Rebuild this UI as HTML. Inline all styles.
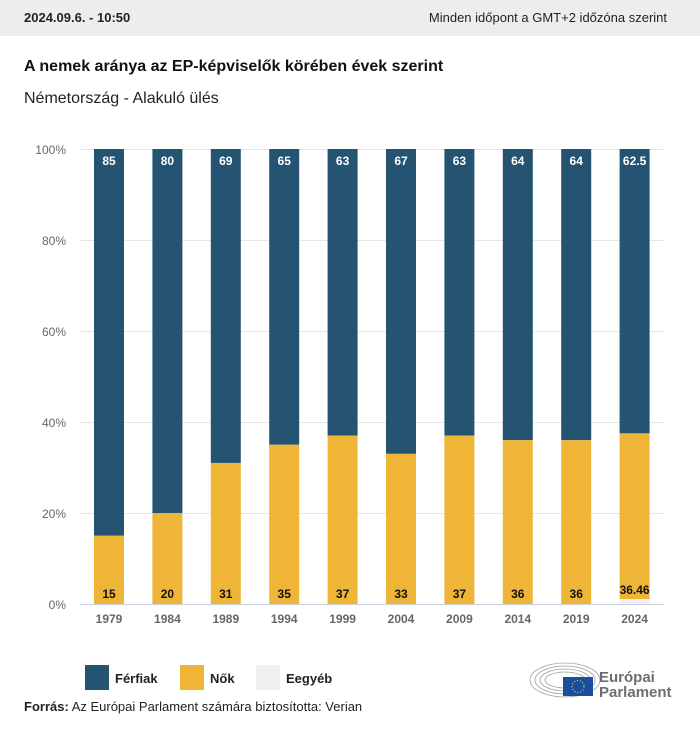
<!DOCTYPE html>
<html><head><meta charset="utf-8"><style>
body{margin:0;width:700px;height:731px;background:#fff;font-family:"Liberation Sans",sans-serif;overflow:hidden}
</style></head><body>
<svg width="700" height="731" xmlns="http://www.w3.org/2000/svg" font-family="Liberation Sans, sans-serif">
<rect x="0" y="0" width="700" height="36" fill="#eceeee"/>
<text x="24" y="22" font-size="13" font-weight="bold" fill="#222">2024.09.6. - 10:50</text>
<text x="667" y="22" font-size="13" fill="#222" text-anchor="end">Minden időpont a GMT+2 időzóna szerint</text>
<text x="24" y="71" font-size="16" font-weight="bold" fill="#111">A nemek aránya az EP-képviselők körében évek szerint</text>
<text x="24" y="103" font-size="16" fill="#222">Németország - Alakuló ülés</text>
<g stroke="#e6e6e6" stroke-width="1">
<line x1="80" y1="149.5" x2="664" y2="149.5"/><line x1="80" y1="240.5" x2="664" y2="240.5"/><line x1="80" y1="331.5" x2="664" y2="331.5"/><line x1="80" y1="422.5" x2="664" y2="422.5"/><line x1="80" y1="513.5" x2="664" y2="513.5"/>
</g>
<g font-size="12" fill="#666" text-anchor="end">
<text x="66" y="154">100%</text><text x="66" y="245">80%</text><text x="66" y="336">60%</text><text x="66" y="427">40%</text><text x="66" y="518">20%</text><text x="66" y="609">0%</text>
</g>
<g id="bars"></g>
<line x1="80" y1="604.5" x2="664" y2="604.5" stroke="#c8d0e0" stroke-width="1"/>
<g font-size="12" font-weight="bold" fill="#666" text-anchor="middle" id="years"></g>
<rect x="85" y="665" width="24" height="25" fill="#255473"/>
<text x="115" y="683" font-size="13" font-weight="bold" fill="#222">Férfiak</text>
<rect x="180" y="665" width="24" height="25" fill="#eeb536"/>
<text x="210" y="683" font-size="13" font-weight="bold" fill="#222">Nők</text>
<rect x="256" y="665" width="24" height="25" fill="#eeeff1"/>
<text x="286" y="683" font-size="13" font-weight="bold" fill="#222">Eegyéb</text>
<text x="24" y="711" font-size="13" fill="#222"><tspan font-weight="bold">Forrás:</tspan> Az Európai Parlament számára biztosította: Verian</text>
<g fill="none" stroke="#9aa0a6" stroke-width="0.8">
<ellipse cx="565" cy="680" rx="35" ry="17"/><ellipse cx="565" cy="680" rx="30" ry="14"/><ellipse cx="565" cy="680" rx="25" ry="11"/><ellipse cx="565" cy="680" rx="20" ry="8"/>
</g>
<rect x="563" y="677" width="30" height="19" fill="#1a4fa0"/>
<circle cx="578" cy="686.5" r="6" fill="none" stroke="#ffd200" stroke-width="1.2" stroke-dasharray="1 2"/>
<text x="599" y="682" font-size="15" font-weight="bold" fill="#6b6e72">Európai</text>
<text x="599" y="697" font-size="15" font-weight="bold" fill="#6b6e72">Parlament</text>
</svg>
<script>
var d=[["1979",15],["1984",20],["1989",31],["1994",35],["1999",37],["2004",33],["2009",37],["2014",36],["2019",36],["2024",37.5]];
var lab=[["85","15"],["80","20"],["69","31"],["65","35"],["63","37"],["67","33"],["63","37"],["64","36"],["64","36"],["62.5","36.46"]];
var ns="http://www.w3.org/2000/svg",g=document.getElementById("bars"),yg=document.getElementById("years");
function el(t,a,p,tx){var e=document.createElementNS(ns,t);for(var k in a)e.setAttribute(k,a[k]);if(tx)e.textContent=tx;p.appendChild(e);return e;}
var T=149,B=604,H=B-T;
d.forEach(function(v,i){var cx=109+58.4*i,x=cx-15,w=30;var yy=B-H*v[1]/100;
el("rect",{x:x,y:T,width:w,height:yy-T,fill:"#255473"},g);
if(i==9){el("rect",{x:x,y:B-5,width:w,height:5,fill:"#eeeff1"},g);el("rect",{x:x,y:yy,width:w,height:B-5-yy,fill:"#eeb536"},g);}
else el("rect",{x:x,y:yy,width:w,height:B-yy,fill:"#eeb536"},g);
el("text",{x:cx,y:165,"font-size":12,"font-weight":"bold",fill:"#fff","text-anchor":"middle"},g,lab[i][0]);
el("text",{x:cx,y:i==9?594:598,"font-size":12,"font-weight":"bold",fill:"#111","text-anchor":"middle"},g,lab[i][1]);
el("text",{x:cx,y:623},yg,v[0]);});
</script>
</body></html>
